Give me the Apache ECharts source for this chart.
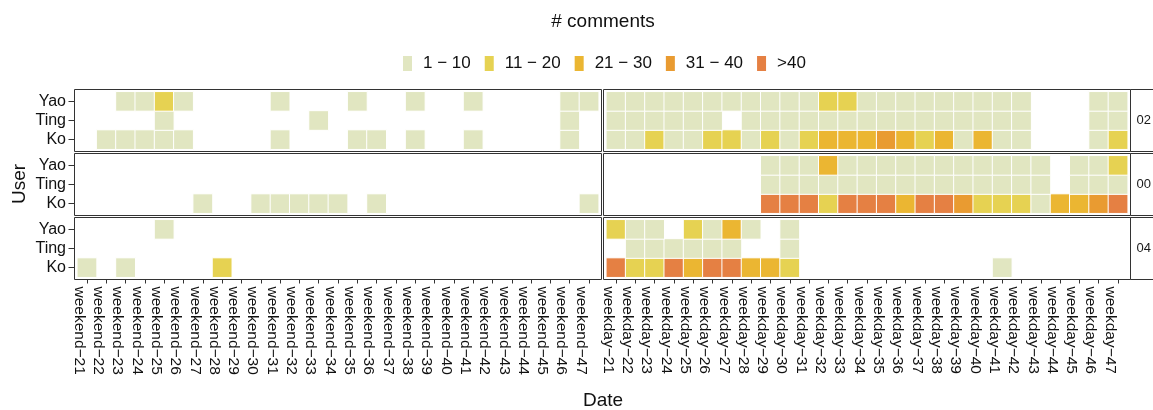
<!DOCTYPE html>
<html><head><meta charset="utf-8">
<script src="https://cdn.jsdelivr.net/npm/echarts@6/dist/echarts.min.js"></script>
<style>html,body{margin:0;padding:0;background:#fff}#c{width:1153px;height:410px}</style>
</head><body><div id="c"></div>
<script>
// ---- data ----
const users = ['Ko', 'Ting', 'Yao'];            // bottom -> top
const hourPanels = ['02', '00', '04'];           // facet rows, top -> bottom
const dayTypes = ['weekend', 'weekday'];         // facet columns
const weekNumbers = [21,22,23,24,25,26,27,28,29,30,31,32,33,34,35,36,37,38,39,40,41,42,43,44,45,46,47];
const binLabels = ['1 − 10', '11 − 20', '21 − 30', '31 − 40', '>40'];
const binColors = ['#E1E6C1', '#E6D252', '#EBB632', '#E99B31', '#E58043'];

// # comments per week (0 = no comments), hour 02
const yao02Weekend  = [0,0,5,5,15,5,0,0,0,0,5,0,0,0,5,0,0,5,0,0,5,0,0,0,0,5,5];
const ting02Weekend = [0,0,0,0,5,0,0,0,0,0,0,0,5,0,0,0,0,0,0,0,0,0,0,0,0,5,0];
const ko02Weekend   = [0,5,5,5,5,5,0,0,0,0,5,0,0,0,5,5,0,5,0,0,5,0,0,0,0,5,0];
const yao02Weekday  = [5,5,5,5,5,5,5,5,5,5,5,15,15,5,5,5,5,5,5,5,5,5,0,0,0,5,5];
const ting02Weekday = [5,5,5,5,5,5,0,5,5,5,5,5,5,5,5,5,5,5,5,5,5,5,0,0,0,5,5];
const ko02Weekday   = [5,5,15,5,5,15,15,5,15,5,15,25,25,25,35,25,15,25,5,25,5,5,0,0,0,5,15];
// hour 00
const yao00Weekend  = [0,0,0,0,0,0,0,0,0,0,0,0,0,0,0,0,0,0,0,0,0,0,0,0,0,0,0];
const ting00Weekend = [0,0,0,0,0,0,0,0,0,0,0,0,0,0,0,0,0,0,0,0,0,0,0,0,0,0,0];
const ko00Weekend   = [0,0,0,0,0,0,5,0,0,5,5,5,5,5,0,5,0,0,0,0,0,0,0,0,0,0,5];
const yao00Weekday  = [0,0,0,0,0,0,0,0,5,5,5,25,5,5,5,5,5,5,5,5,5,5,5,0,5,5,15];
const ting00Weekday = [0,0,0,0,0,0,0,0,5,5,5,5,5,5,5,5,5,5,5,5,5,5,5,0,5,5,5];
const ko00Weekday   = [0,0,0,0,0,0,0,0,45,45,45,15,45,45,45,25,45,45,35,15,15,15,5,25,25,35,45];
// hour 04
const yao04Weekend  = [0,0,0,0,5,0,0,0,0,0,0,0,0,0,0,0,0,0,0,0,0,0,0,0,0,0,0];
const ting04Weekend = [0,0,0,0,0,0,0,0,0,0,0,0,0,0,0,0,0,0,0,0,0,0,0,0,0,0,0];
const ko04Weekend   = [5,0,5,0,0,0,0,15,0,0,0,0,0,0,0,0,0,0,0,0,0,0,0,0,0,0,0];
const yao04Weekday  = [15,5,5,0,15,5,25,5,0,5,0,0,0,0,0,0,0,0,0,0,0,0,0,0,0,0,0];
const ting04Weekday = [0,5,5,5,5,5,5,0,0,5,0,0,0,0,0,0,0,0,0,0,0,0,0,0,0,0,0];
const ko04Weekday   = [45,15,15,45,25,45,45,25,25,15,0,0,0,0,0,0,0,0,0,0,5,0,0,0,0,0,0];

// panels [row][col] -> [Ko, Ting, Yao]
const panels = [
  [[ko02Weekend, ting02Weekend, yao02Weekend], [ko02Weekday, ting02Weekday, yao02Weekday]],
  [[ko00Weekend, ting00Weekend, yao00Weekend], [ko00Weekday, ting00Weekday, yao00Weekday]],
  [[ko04Weekend, ting04Weekend, yao04Weekend], [ko04Weekday, ting04Weekday, yao04Weekday]]
];

// ---- layout ----
const FONT = '"Liberation Sans", Arial, Helvetica, sans-serif';
const panelLeft = [74.5, 603.5];
const panelW = 527;
const panelTop = [89.5, 153.5, 217.5];
const panelH = 62;
const insetX = 2.8, insetY = 2.3;

const grids = [], xAxes = [], yAxes = [], series = [], graphics = [];
for (let r = 0; r < 3; r++) {
  for (let c = 0; c < 2; c++) {
    const g = r * 2 + c;
    grids.push({
      left: panelLeft[c] + insetX, top: panelTop[r] + insetY,
      width: panelW - 2 * insetX, height: panelH - 2 * insetY,
      containLabel: false
    });
    const labels = weekNumbers.map(w => dayTypes[c] + '−' + w);
    xAxes.push({
      type: 'category', gridIndex: g, data: labels, offset: insetY,
      axisLine: { show: false },
      axisTick: { show: r === 2, alignWithLabel: true, interval: 0, length: 4, lineStyle: { color: '#333' } },
      axisLabel: { show: r === 2, rotate: -90, margin: 7, fontSize: 15.5, color: '#111', fontFamily: FONT,
                   interval: 0, verticalAlign: 'top' },
      splitLine: { show: false }
    });
    yAxes.push({
      type: 'category', gridIndex: g, data: users, offset: insetX,
      axisLine: { show: false },
      axisTick: { show: c === 0, alignWithLabel: true, interval: 0, length: 6, lineStyle: { color: '#333' } },
      axisLabel: { show: c === 0, interval: 0, margin: 8.5, fontSize: 16, color: '#111', fontFamily: FONT },
      splitLine: { show: false }
    });
    const data = [];
    panels[r][c].forEach((arr, yi) => {
      arr.forEach((v, xi) => { if (v > 0) data.push([xi, yi, v]); });
    });
    series.push({
      type: 'heatmap', xAxisIndex: g, yAxisIndex: g, data: data,
      itemStyle: { borderColor: '#ffffff', borderWidth: 1 },
      emphasis: { disabled: true }
    });
    graphics.push({
      type: 'rect', silent: true, z: 100,
      shape: { x: panelLeft[c], y: panelTop[r], width: panelW, height: panelH },
      style: { fill: 'none', stroke: '#333', lineWidth: 1 }
    });
  }
  // strip on the right
  graphics.push({
    type: 'rect', silent: true, z: 100,
    shape: { x: panelLeft[1] + panelW, y: panelTop[r], width: 40, height: panelH },
    style: { fill: '#fff', stroke: '#333', lineWidth: 1 }
  });
  graphics.push({
    type: 'text', silent: true, z: 101,
    x: panelLeft[1] + panelW + 6, y: panelTop[r] + panelH / 2,
    style: { text: hourPanels[r], fontSize: 13, fontFamily: FONT, fill: '#1a1a1a', align: 'left', verticalAlign: 'middle' }
  });
}
graphics.push({
  type: 'text', silent: true, x: 603, y: 22,
  style: { text: '# comments', fontSize: 19, fontFamily: FONT, fill: '#111', align: 'center', verticalAlign: 'middle' }
});
graphics.push({
  type: 'text', silent: true, x: 603, y: 401,
  style: { text: 'Date', fontSize: 19, fontFamily: FONT, fill: '#111', align: 'center', verticalAlign: 'middle' }
});
graphics.push({
  type: 'text', silent: true, x: 20, y: 184, rotation: Math.PI / 2,
  style: { text: 'User', fontSize: 19, fontFamily: FONT, fill: '#111', align: 'center', verticalAlign: 'middle' }
});

const pieces = [
  { min: 1, max: 10, label: binLabels[0], color: binColors[0] },
  { min: 11, max: 20, label: binLabels[1], color: binColors[1] },
  { min: 21, max: 30, label: binLabels[2], color: binColors[2] },
  { min: 31, max: 40, label: binLabels[3], color: binColors[3] },
  { gt: 40, label: binLabels[4], color: binColors[4] }
];

const chart = echarts.init(document.getElementById('c'), null, { renderer: 'canvas' });
chart.setOption({
  animation: false,
  backgroundColor: '#fff',
  textStyle: { fontFamily: FONT },
  grid: grids, xAxis: xAxes, yAxis: yAxes, series: series,
  visualMap: {
    type: 'piecewise', dimension: 2, seriesIndex: series.map((s, i) => i),
    pieces: pieces, orient: 'horizontal', left: 388, top: 40,
    itemWidth: 9, itemHeight: 15, itemGap: 14, textGap: 11, itemSymbol: 'rect',
    selectedMode: false, hoverLink: false,
    textStyle: { fontSize: 17, color: '#111', fontFamily: FONT }
  },
  graphic: graphics
});
</script></body></html>
